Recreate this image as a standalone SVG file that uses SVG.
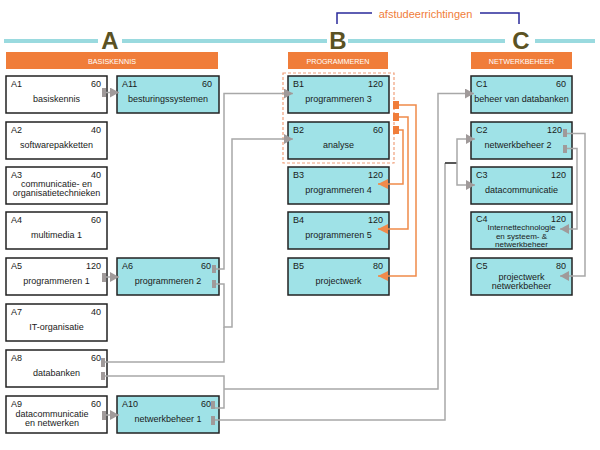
<svg xmlns="http://www.w3.org/2000/svg" width="600" height="450" viewBox="0 0 600 450">
<style>
text{font-family:"Liberation Sans",Arial,sans-serif;}
.box{stroke:#222;stroke-width:1.5;}
.w{fill:#fff;}
.c{fill:#9fe2e7;}
.lbl{font-size:9px;fill:#1a1a1a;}
.val{font-size:9px;fill:#1a1a1a;text-anchor:end;}
.nm{font-size:9px;fill:#1a1a1a;text-anchor:middle;}
.sm{font-size:8px;}
.hdr{fill:#f07d3a;}
.hdrt{font-size:7.2px;fill:#fff;text-anchor:middle;}
.big{font-size:24px;font-weight:bold;fill:#5b5223;text-anchor:middle;}
.g{fill:none;stroke:#a8a8a8;stroke-width:1.5;}
.o{fill:none;stroke:#f08a4a;stroke-width:1.5;}
.gt{fill:#a09a9a;}
.ot{fill:#f07d3a;}
</style>
<defs>
<marker id="ag" markerUnits="userSpaceOnUse" markerWidth="9" markerHeight="10" refX="9" refY="5" orient="auto"><path d="M0,0 L9,5 L0,10 z" fill="#a09a9a"/></marker>
<marker id="ao" markerUnits="userSpaceOnUse" markerWidth="10" markerHeight="10" refX="10" refY="5" orient="auto"><path d="M0,0 L10,5 L0,10 z" fill="#f08a4a"/></marker>
</defs>

<!-- top band -->
<g id="band">
<line x1="4" y1="41" x2="98" y2="41" stroke="#9adadf" stroke-width="4"/>
<line x1="122" y1="41" x2="327" y2="41" stroke="#9adadf" stroke-width="4"/>
<line x1="348" y1="41" x2="505" y2="41" stroke="#9adadf" stroke-width="4"/>
<line x1="535" y1="41" x2="595" y2="41" stroke="#9adadf" stroke-width="4"/>
<text class="big" x="110" y="49">A</text>
<text class="big" x="338" y="49">B</text>
<text class="big" x="521" y="49">C</text>
<path d="M337,24 V13 H372 M480,13 H519 V24" fill="none" stroke="#2a2a9a" stroke-width="1.5"/>
<text x="425.5" y="18" style="font-size:11px;fill:#f07d3a;text-anchor:middle">afstudeerrichtingen</text>
</g>

<g id="headers">
<rect class="hdr" x="6" y="52" width="212" height="17"/>
<text class="hdrt" x="112" y="63.5">BASISKENNIS</text>
<rect class="hdr" x="288" y="52" width="100" height="17"/>
<text class="hdrt" x="338" y="63.5">PROGRAMMEREN</text>
<rect class="hdr" x="471" y="52" width="101" height="17"/>
<text class="hdrt" x="521.5" y="63.5">NETWERKBEHEER</text>
</g>

<rect id="groupB12" x="283" y="73" width="111" height="90" fill="none" stroke="#f0a07a" stroke-width="1.2" stroke-dasharray="3,2"/>

<!-- column A -->
<g id="A1"><rect class="box w" x="6" y="76" width="101" height="37"/><text class="lbl" x="11" y="87">A1</text><text class="val" x="101" y="87">60</text><text class="nm" x="56.5" y="102">basiskennis</text></g>
<g id="A2"><rect class="box w" x="6" y="122" width="101" height="37"/><text class="lbl" x="11" y="133">A2</text><text class="val" x="101" y="133">40</text><text class="nm" x="56.5" y="148">softwarepakketten</text></g>
<g id="A3"><rect class="box w" x="6" y="167" width="101" height="37"/><text class="lbl" x="11" y="178">A3</text><text class="val" x="101" y="178">40</text><text class="nm" x="56.5" y="187">communicatie- en</text><text class="nm" x="56.5" y="195.5">organisatietechnieken</text></g>
<g id="A4"><rect class="box w" x="6" y="212" width="101" height="37"/><text class="lbl" x="11" y="223">A4</text><text class="val" x="101" y="223">60</text><text class="nm" x="56.5" y="238">multimedia 1</text></g>
<g id="A5"><rect class="box w" x="6" y="258" width="101" height="37"/><text class="lbl" x="11" y="269">A5</text><text class="val" x="101" y="269">120</text><text class="nm" x="56.5" y="284">programmeren 1</text></g>
<g id="A7"><rect class="box w" x="6" y="304" width="101" height="37"/><text class="lbl" x="11" y="315">A7</text><text class="val" x="101" y="315">40</text><text class="nm" x="56.5" y="330">IT-organisatie</text></g>
<g id="A8"><rect class="box w" x="6" y="350" width="101" height="37"/><text class="lbl" x="11" y="361">A8</text><text class="val" x="101" y="361">60</text><text class="nm" x="56.5" y="376">databanken</text></g>
<g id="A9"><rect class="box w" x="6" y="396" width="101" height="37"/><text class="lbl" x="11" y="407">A9</text><text class="val" x="101" y="407">60</text><text class="nm" x="52" y="417">datacommunicatie</text><text class="nm" x="52" y="426">en netwerken</text></g>

<g id="A11"><rect class="box c" x="117" y="76" width="102" height="37"/><text class="lbl" x="122" y="87">A11</text><text class="val" x="212" y="87">60</text><text class="nm" x="168" y="102">besturingssystemen</text></g>
<g id="A6"><rect class="box c" x="117" y="258" width="102" height="37"/><text class="lbl" x="122" y="269">A6</text><text class="val" x="211" y="269">60</text><text class="nm" x="168" y="284">programmeren 2</text></g>
<g id="A10"><rect class="box c" x="117" y="396" width="102" height="37"/><text class="lbl" x="122" y="407">A10</text><text class="val" x="211" y="407">60</text><text class="nm" x="168" y="422">netwerkbeheer 1</text></g>

<!-- column B -->
<g id="B1"><rect class="box c" x="288" y="76" width="101" height="37"/><text class="lbl" x="293" y="87">B1</text><text class="val" x="383" y="87">120</text><text class="nm" x="338.5" y="102">programmeren 3</text></g>
<g id="B2"><rect class="box c" x="288" y="122" width="101" height="37"/><text class="lbl" x="293" y="133">B2</text><text class="val" x="383" y="133">60</text><text class="nm" x="338.5" y="148">analyse</text></g>
<g id="B3"><rect class="box c" x="288" y="167" width="101" height="37"/><text class="lbl" x="293" y="178">B3</text><text class="val" x="383" y="178">120</text><text class="nm" x="338.5" y="193">programmeren 4</text></g>
<g id="B4"><rect class="box c" x="288" y="212" width="101" height="37"/><text class="lbl" x="293" y="223">B4</text><text class="val" x="383" y="223">120</text><text class="nm" x="338.5" y="238">programmeren 5</text></g>
<g id="B5"><rect class="box c" x="288" y="258" width="101" height="37"/><text class="lbl" x="293" y="269">B5</text><text class="val" x="383" y="269">80</text><text class="nm" x="338.5" y="284">projectwerk</text></g>

<!-- column C -->
<g id="C1"><rect class="box c" x="471" y="76" width="101" height="37"/><text class="lbl" x="476" y="87">C1</text><text class="val" x="566" y="87">60</text><text class="nm" x="521.5" y="102">beheer van databanken</text></g>
<g id="C2"><rect class="box c" x="471" y="122" width="101" height="37"/><text class="lbl" x="476" y="133">C2</text><text class="val" x="562" y="133">120</text><text class="nm" x="518" y="148">netwerkbeheer 2</text></g>
<g id="C3"><rect class="box c" x="471" y="167" width="101" height="37"/><text class="lbl" x="476" y="178">C3</text><text class="val" x="566" y="178">120</text><text class="nm" x="521.5" y="193">datacommunicatie</text></g>
<g id="C4"><rect class="box c" x="471" y="212" width="101" height="37"/><text class="lbl" x="476" y="222">C4</text><text class="val" x="566" y="222">120</text><text class="nm sm" x="521.5" y="230">Internettechnologie</text><text class="nm sm" x="521.5" y="238.5">en  systeem- &amp;</text><text class="nm sm" x="521.5" y="247">netwerkbeheer</text></g>
<g id="C5"><rect class="box c" x="471" y="258" width="101" height="37"/><text class="lbl" x="476" y="269">C5</text><text class="val" x="566" y="269">80</text><text class="nm" x="521.5" y="280">projectwerk</text><text class="nm" x="521.5" y="288.5">netwerkbeheer</text></g>

<!-- connectors -->
<g id="connectors">
<path class="g" d="M106,92.5 H119" marker-end="url(#ag)"/>
<path class="g" d="M106,277 H119" marker-end="url(#ag)"/>
<path class="g" d="M106,415 H119" marker-end="url(#ag)"/>
<path class="g" d="M216,269 H224 V93.5 H293" marker-end="url(#ag)"/>
<path class="g" d="M216,284 H224 V327 H232 V139 H293" marker-end="url(#ag)"/>
<path class="g" d="M105,362 H224 V327"/>
<path class="g" d="M105,376 H224 V408 H215"/>
<path class="g" d="M224,389 H438 V93.5 H474" marker-end="url(#ag)"/>
<path class="g" d="M215,420 H445 V163"/>
<path d="M445,163 H457" stroke="#444" stroke-width="1.8" fill="none"/>
<path class="g" d="M457,163 V139 H475" marker-end="url(#ag)"/>
<path class="g" d="M457,163 V185 H475" marker-end="url(#ag)"/>
<path class="g" d="M567,133.5 H585 V276 H560" marker-end="url(#ag)"/>
<path class="g" d="M567,148.5 H577 V229 H560" marker-end="url(#ag)"/>
<path class="o" d="M399,105 H416 V276 H378" marker-end="url(#ao)"/>
<path class="o" d="M399,117 H408 V229 H378" marker-end="url(#ao)"/>
<path class="o" d="M399,130 H403 V184 H378" marker-end="url(#ao)"/>
<rect class="gt" x="102" y="88" width="4" height="9"/>
<rect class="gt" x="102" y="273" width="4" height="9"/>
<rect class="gt" x="102" y="411" width="4" height="9"/>
<rect class="gt" x="212" y="265" width="4" height="8"/>
<rect class="gt" x="212" y="280" width="4" height="8"/>
<rect class="gt" x="101" y="358" width="4" height="9"/>
<rect class="gt" x="101" y="372" width="4" height="8"/>
<rect class="gt" x="211" y="401" width="4" height="8"/>
<rect class="gt" x="211" y="416" width="4" height="9"/>
<rect class="gt" x="563" y="129" width="4" height="8"/>
<rect class="gt" x="563" y="145" width="4" height="8"/>
<rect class="ot" x="393" y="101" width="6" height="8"/>
<rect class="ot" x="393" y="113" width="6" height="8"/>
<rect class="ot" x="393" y="126" width="6" height="8"/>
</g>
</svg>
